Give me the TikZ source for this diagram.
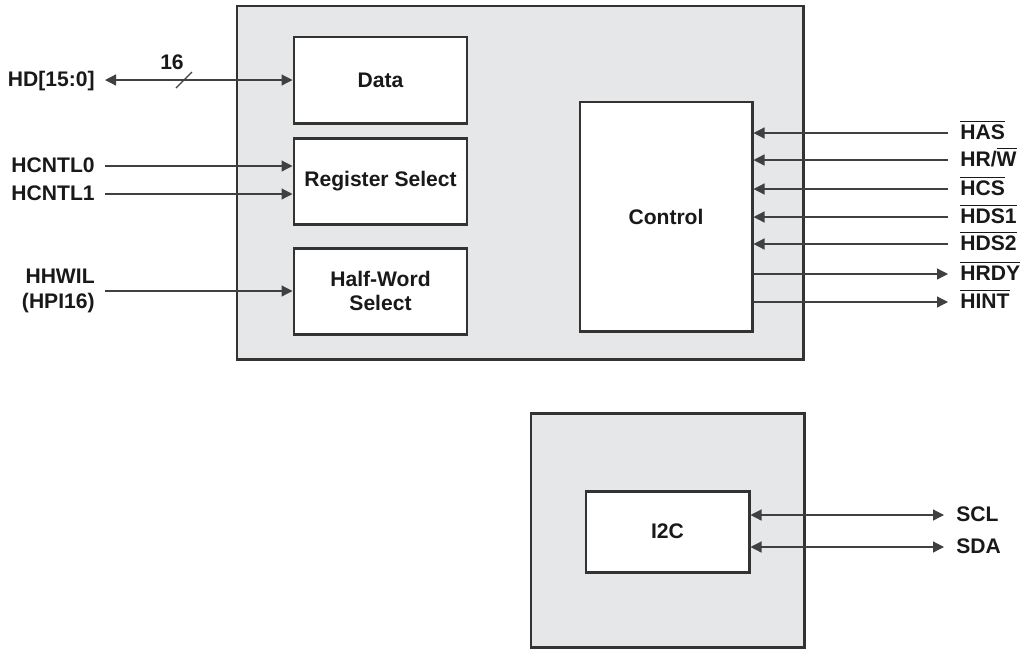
\documentclass[tikz,border=0pt]{standalone}
\usepackage{fontspec}
\setmainfont{Liberation Sans}
\usetikzlibrary{arrows.meta}
\definecolor{hpi_gray}{RGB}{230, 231, 232}
\definecolor{hpi_edge}{RGB}{51, 51, 51}
\definecolor{hpi_wire}{RGB}{64, 64, 64}
\newcommand{\nbar}[1]{{\setbox0\hbox{#1}\rlap{\rule[1.55ex]{\wd0}{0.7pt}}\box0}}
\tikzstyle{outer}=[rectangle,fill=hpi_gray,draw=hpi_edge,line width=1.7pt]
\tikzstyle{blk}=[rectangle,fill=white,draw=hpi_edge,line width=1.7pt,
  minimum width=3.46cm,minimum height=1.72cm]
\tikzstyle{lsig}=[anchor=east,inner xsep=0.2cm,text height=1.39ex,text depth=0pt]
\tikzstyle{rsig}=[anchor=west,inner xsep=0.24cm,text height=1.39ex,text depth=0pt]
\tikzstyle{wire}=[draw=hpi_wire,line width=0.7pt]
\tikzstyle{none}=[]
\begin{document}
\begin{tikzpicture}[>={Triangle[length=0.22cm,width=0.22cm]},
  every node/.style={font=\bfseries\fontsize{12}{14}\selectfont, text=black!90}]
		\useasboundingbox (0, 0) rectangle (20.46, -12.98);
		\node [style=outer, minimum width=11.32cm, minimum height=7.06cm] (0) at (10.4, -3.65) {};
		\node [style=outer, minimum width=5.46cm, minimum height=4.68cm] (1) at (13.35, -10.6) {};
		\node [style=none] (2) at (8.86, -0.94) {HPI};
		\node [style=blk] (3) at (7.61, -1.6) {Data};
		\node [style=blk] (4) at (7.61, -3.62) {Register Select};
		\node [style=blk, align=center] (5) at (7.61, -5.82) {Half-Word\\Select};
		\node [style=blk, minimum width=3.44cm, minimum height=4.58cm] (6) at (13.32, -4.33) {Control};
		\node [style=blk, minimum width=3.26cm, minimum height=1.62cm] (7) at (13.35, -10.63) {I2C};
		\node [style=lsig] (8) at (2.1, -1.6) {HD[15:0]};
		\node [style=lsig] (9) at (2.1, -3.32) {HCNTL0};
		\node [style=lsig] (10) at (2.1, -3.88) {HCNTL1};
		\node [anchor=east, inner xsep=0.2cm, align=right] (11) at (2.1, -5.82) {HHWIL\\(HPI16)};
		\coordinate (12) at (3.68, -1.6);
		\node [style=none] (13) at (3.44, -1.24) {16};
		\node [style=rsig] (14) at (18.96, -2.66) {\nbar{HAS}};
		\node [style=rsig] (15) at (18.96, -3.2) {HR/\nbar{W}};
		\node [style=rsig] (16) at (18.96, -3.78) {\nbar{HCS}};
		\node [style=rsig] (17) at (18.96, -4.34) {\nbar{HDS1}};
		\node [style=rsig] (18) at (18.96, -4.88) {\nbar{HDS2}};
		\node [style=rsig] (19) at (18.96, -5.48) {\nbar{HRDY}};
		\node [style=rsig] (20) at (18.96, -6.04) {\nbar{HINT}};
		\node [style=rsig] (21) at (18.88, -10.3) {SCL};
		\node [style=rsig] (22) at (18.88, -10.94) {SDA};
		\draw [style=wire, <->] (8.east) to (8.east -| 3.west);
		\draw [style=wire] ([shift={(-0.16,-0.16)}]12) to ([shift={(0.16,0.16)}]12);
		\draw [style=wire, ->] (9.east) to (9.east -| 4.west);
		\draw [style=wire, ->] (10.east) to (10.east -| 4.west);
		\draw [style=wire, ->] (11.east) to (11.east -| 5.west);
		\draw [style=wire, ->] (14.west) to (14.west -| 6.east);
		\draw [style=wire, ->] (15.west) to (15.west -| 6.east);
		\draw [style=wire, ->] (16.west) to (16.west -| 6.east);
		\draw [style=wire, ->] (17.west) to (17.west -| 6.east);
		\draw [style=wire, ->] (18.west) to (18.west -| 6.east);
		\draw [style=wire, ->] (19.west -| 6.east) to (19.west);
		\draw [style=wire, ->] (20.west -| 6.east) to (20.west);
		\draw [style=wire, <->] (21.west -| 7.east) to (21.west);
		\draw [style=wire, <->] (22.west -| 7.east) to (22.west);
\end{tikzpicture}
\end{document}
